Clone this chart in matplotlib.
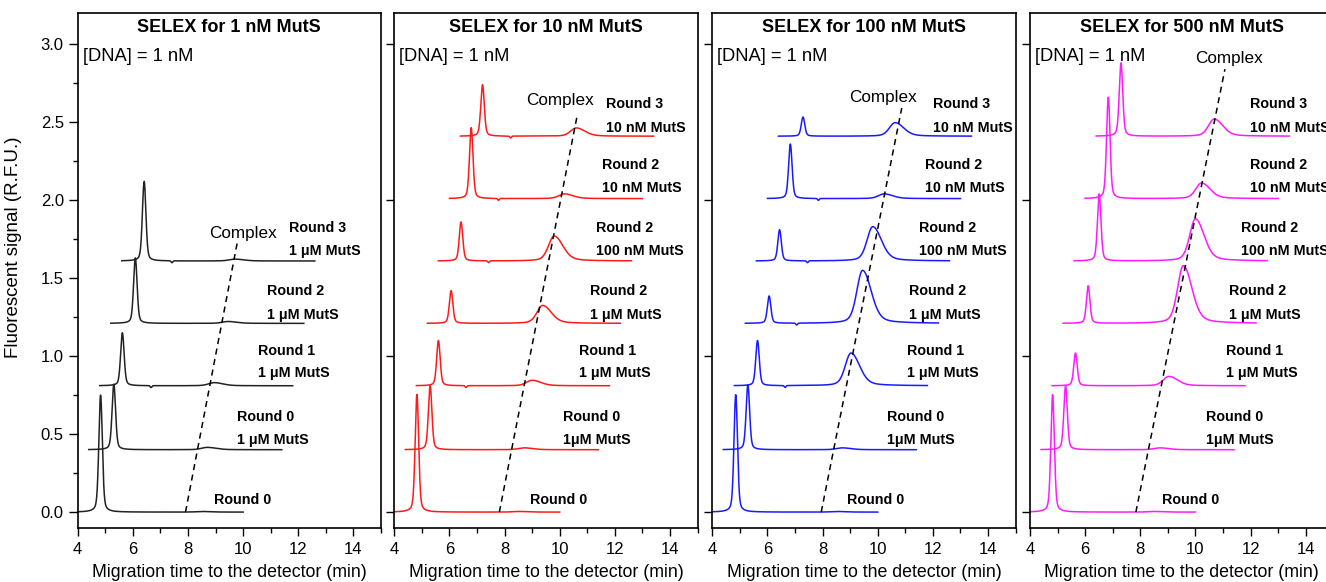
import numpy as np
import matplotlib
matplotlib.use("Agg")
import matplotlib.pyplot as plt
from matplotlib.ticker import MultipleLocator

plt.rcParams['font.family'] = ['Liberation Sans', 'DejaVu Sans']

# ---------------- data ----------------
titles = ["SELEX for 1 nM MutS", "SELEX for 10 nM MutS",
          "SELEX for 100 nM MutS", "SELEX for 500 nM MutS"]
colors = ["#222222", "#ff1a1a", "#1a1aff", "#ff1aff"]

# offsets of stacked traces (signal) and their time windows (min)
trace_offsets = [0.0, 0.40, 0.81, 1.21, 1.61, 2.01, 2.41]
trace_starts = [4.0, 4.4, 4.8, 5.2, 5.6, 6.0, 6.4]
trace_ends = [10.0, 11.4, 11.8, 12.2, 12.6, 13.0, 13.4]

# free DNA peak: position (min) and height above baseline
free_pos = [[4.83, 5.31, 5.62, 6.09, 6.41],
            [4.82, 5.30, 5.60, 6.06, 6.42, 6.79, 7.20],
            [4.85, 5.29, 5.64, 6.06, 6.44, 6.83, 7.29],
            [4.82, 5.29, 5.65, 6.11, 6.51, 6.84, 7.30]]
free_height = [[0.75, 0.42, 0.34, 0.42, 0.51],
               [0.755, 0.41, 0.29, 0.21, 0.25, 0.455, 0.33],
               [0.753, 0.417, 0.29, 0.175, 0.20, 0.35, 0.123],
               [0.753, 0.41, 0.21, 0.24, 0.43, 0.65, 0.47]]

# complex peak: position and height above baseline
complex_pos = [[8.5, 8.7, 8.95, 9.45, 9.70],
               [8.5, 8.7, 9.00, 9.38, 9.80, 10.17, 10.60],
               [8.5, 8.7, 9.03, 9.45, 9.82, 10.23, 10.63],
               [8.5, 8.7, 9.04, 9.56, 10.00, 10.22, 10.68]]
complex_height = [[0.004, 0.015, 0.02, 0.012, 0.012],
                  [0.004, 0.012, 0.035, 0.115, 0.16, 0.03, 0.053],
                  [0.004, 0.012, 0.21, 0.34, 0.22, 0.03, 0.087],
                  [0.004, 0.012, 0.06, 0.37, 0.27, 0.10, 0.11]]

# small negative dips after the free peak (nan = none)
dip_pos = [[np.nan, np.nan, 6.66, np.nan, 7.42],
           [np.nan, np.nan, 6.60, np.nan, 7.42, 7.78, 8.22],
           [np.nan, np.nan, 6.64, 7.06, 7.45, 7.85, np.nan],
           [np.nan, np.nan, np.nan, np.nan, np.nan, np.nan, np.nan]]

# dashed "Complex" guide lines: (t0, t1), (y0, y1) and label centre
complex_line_t = [(7.91, 9.80), (7.81, 10.63), (7.95, 10.87), (7.84, 11.07)]
complex_line_y = [(0.0, 1.74), (0.0, 2.54), (0.0, 2.59), (0.0, 2.84)]
complex_label_xy = [(9.98, 1.785), (10.0, 2.636), (10.2, 2.657), (11.2, 2.91)]

label_line1_p1 = ["Round 0", "Round 0", "Round 1", "Round 2", "Round 3"]
label_line2_p1 = [None, "1 μM MutS", "1 μM MutS", "1 μM MutS", "1 μM MutS"]
label_line1 = ["Round 0", "Round 0", "Round 1", "Round 2", "Round 2", "Round 2", "Round 3"]
label_line2 = [None, "1μM MutS", "1 μM MutS", "1 μM MutS", "100 nM MutS",
               "10 nM MutS", "10 nM MutS"]
label_y1 = [0.077, 0.61, 1.035, 1.415, 1.82, 2.225, 2.615]
label_y2 = [None, 0.46, 0.89, 1.265, 1.672, 2.075, 2.465]
label_x = [[8.96, 9.77, 10.53, 10.85, 11.65],
           [8.91, 10.12, 10.70, 11.10, 11.31, 11.53, 11.68],
           [8.88, 10.33, 11.05, 11.14, 11.48, 11.72, 12.00],
           [8.80, 10.37, 11.10, 11.22, 11.65, 11.97, 11.97]]

# ---------------- helpers ----------------
def free_peak(t, t0, h):
    w = 0.062
    g = np.exp(-0.5 * ((t - t0) / w) ** 2)
    l = 1.0 / (1.0 + ((t - t0) / 0.085) ** 2)
    return h * (0.7 * g + 0.3 * l)

def complex_peak(t, t0, h):
    wl, wr = 0.20, 0.30
    w = np.where(t < t0, wl, wr)
    g = np.exp(-0.5 * ((t - t0) / w) ** 2)
    l = 1.0 / (1.0 + ((t - t0) / (1.6 * w)) ** 2)
    return h * (0.75 * g + 0.25 * l)

def dip(t, t0):
    if np.isnan(t0):
        return 0 * t
    return -0.012 * np.exp(-0.5 * ((t - t0) / 0.03) ** 2)

# ---------------- figure ----------------
W, H = 1326, 582
fig = plt.figure(figsize=(W / 100, H / 100), dpi=100)
lefts = [77.7, 394.3, 712.3, 1030.0]
ax_w = 303.3
ax_bottom, ax_top = 527.7, 13.0

for p in range(4):
    ax = fig.add_axes([lefts[p] / W, (H - ax_bottom) / H, ax_w / W,
                       (ax_bottom - ax_top) / H])
    ax.set_xlim(4, 15)
    ax.set_ylim(-0.1, 3.2)
    n = len(free_pos[p])
    for i in range(n):
        t = np.linspace(trace_starts[i], trace_ends[i], 1500)
        y = (trace_offsets[i] + free_peak(t, free_pos[p][i], free_height[p][i])
             + complex_peak(t, complex_pos[p][i], complex_height[p][i])
             + dip(t, dip_pos[p][i]))
        ax.plot(t, y, color=colors[p], lw=1.1, clip_on=False)
        l1 = label_line1_p1[i] if p == 0 else label_line1[i]
        l2 = label_line2_p1[i] if p == 0 else label_line2[i]
        ax.text(label_x[p][i], label_y1[i], l1, fontsize=10.3, fontweight='bold',
                ha='left', va='center', clip_on=True)
        if l2:
            ax.text(label_x[p][i], label_y2[i], l2, fontsize=10.3, fontweight='bold',
                    ha='left', va='center', clip_on=True)
    ax.plot(complex_line_t[p], complex_line_y[p], color='black', lw=1.1,
            ls=(0, (4, 3)))
    ax.text(*complex_label_xy[p], "Complex", fontsize=12.3, ha='center', va='center')
    ax.text(0.5, 0.971, titles[p], transform=ax.transAxes, fontsize=13,
            fontweight='bold', ha='center', va='center')
    ax.text(0.016, 0.916, "[DNA] = 1 nM", transform=ax.transAxes, fontsize=13.2,
            ha='left', va='center')

    ax.xaxis.set_major_locator(MultipleLocator(2))
    ax.xaxis.set_minor_locator(MultipleLocator(1))
    ax.tick_params(axis='x', which='major', direction='out', length=6, width=1,
                   labelsize=12, pad=4)
    ax.tick_params(axis='x', which='minor', direction='out', length=3.5, width=1)
    ax.set_xlabel("Migration time to the detector (min)", fontsize=12.8, labelpad=5)
    if p == 0:
        ax.yaxis.set_major_locator(MultipleLocator(0.5))
        ax.yaxis.set_minor_locator(MultipleLocator(0.25))
        ax.yaxis.set_major_formatter(matplotlib.ticker.FormatStrFormatter('%.1f'))
        ax.tick_params(axis='y', which='major', direction='out', length=6.5, width=1,
                       labelsize=12)
        ax.tick_params(axis='y', which='minor', direction='out', length=3.5, width=1)
        ax.set_ylabel("Fluorescent signal (R.F.U.)", fontsize=13.5)
        ax.yaxis.set_label_coords(-0.185, 0.544)
    else:
        ax.yaxis.set_major_locator(MultipleLocator(1.0))
        ax.tick_params(axis='y', which='major', direction='out', length=6, width=1,
                       labelleft=False)
    for s in ax.spines.values():
        s.set_linewidth(1.2)

fig.savefig("out.png", dpi=100)
